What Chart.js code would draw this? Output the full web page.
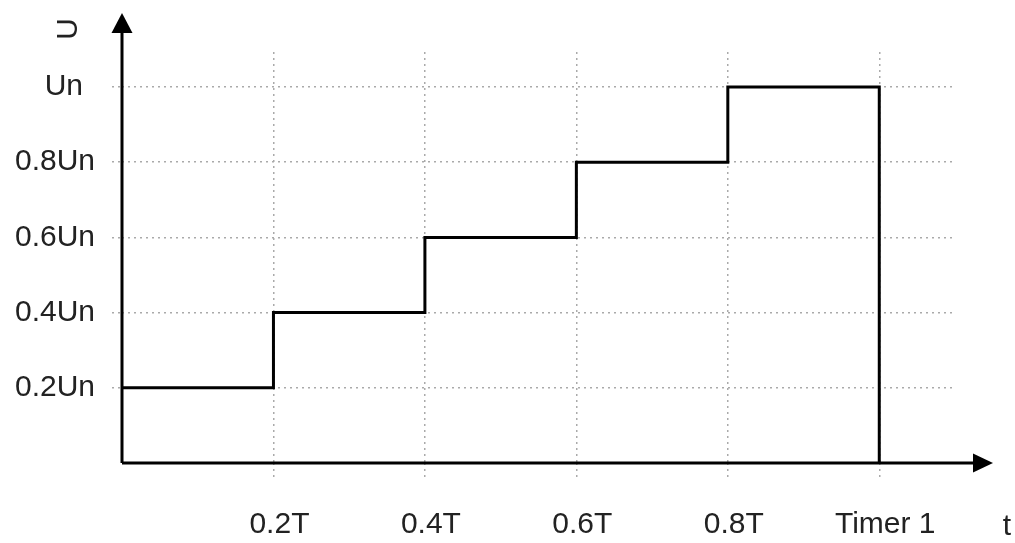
<!DOCTYPE html>
<html>
<head>
<meta charset="utf-8">
<script src="https://cdn.jsdelivr.net/npm/chart.js@4"></script>
<style>
  html, body { margin: 0; padding: 0; background: #fff; }
  #wrap { width: 1015px; height: 543px; }
</style>
</head>
<body>
<div id="wrap"><canvas id="stepChart"></canvas></div>
<script>
// data
const times = [0, 0.2, 0.4, 0.6, 0.8, 1.0];
const levels = [0.2, 0.4, 0.6, 0.8, 1.0, 0];
const xTicks = [0.2, 0.4, 0.6, 0.8, 1.0];
const xTickLabels = ['0.2T', '0.4T', '0.6T', '0.8T', 'Timer 1'];
const yTicks = [0.2, 0.4, 0.6, 0.8, 1.0];
const yTickLabels = ['0.2Un', '0.4Un', '0.6Un', '0.8Un', 'Un\u2009\u2009'];

const FONT = '"Liberation Sans", Arial, sans-serif';

// axis lines with arrow heads + axis letters
const arrowAxes = {
    id: 'arrowAxes',
    afterDraw(chart) {
        const ctx = chart.ctx;
        const xs = chart.scales.x, ys = chart.scales.y;
        const ox = xs.getPixelForValue(0);
        const oy = ys.getPixelForValue(0);
        ctx.save();
        ctx.strokeStyle = '#000';
        ctx.fillStyle = '#000';
        ctx.lineWidth = 3;
        ctx.beginPath();
        ctx.moveTo(ox, oy);
        ctx.lineTo(ox, 32);
        ctx.moveTo(ox, oy);
        ctx.lineTo(975, oy);
        ctx.stroke();
        // arrow heads
        ctx.beginPath();
        ctx.moveTo(ox, 13);
        ctx.lineTo(ox - 10.5, 33);
        ctx.lineTo(ox + 10.5, 33);
        ctx.closePath();
        ctx.fill();
        ctx.beginPath();
        ctx.moveTo(993, oy);
        ctx.lineTo(973, oy - 9.5);
        ctx.lineTo(973, oy + 9.5);
        ctx.closePath();
        ctx.fill();
        // axis letters
        ctx.fillStyle = '#222';
        ctx.font = '30px ' + FONT;
        ctx.textAlign = 'center';
        ctx.textBaseline = 'alphabetic';
        ctx.fillText('t', 1007, 535);
        ctx.textBaseline = 'middle';
        ctx.translate(68, 29);
        ctx.rotate(-Math.PI / 2);
        ctx.fillText('U', 0, 1);
        ctx.restore();
    }
};

const ctx = document.getElementById('stepChart').getContext('2d');
new Chart(ctx, {
    type: 'line',
    data: {
        datasets: [{
            data: times.map((t, i) => ({ x: t, y: levels[i] })),
            stepped: 'before',
            borderColor: '#000',
            borderWidth: 3,
            pointRadius: 0,
            fill: false,
            clip: false
        }]
    },
    options: {
        responsive: true,
        maintainAspectRatio: false,
        animation: false,
        events: [],
        layout: { padding: { left: 0, right: 60, top: 52, bottom: 0 } },
        plugins: {
            legend: { display: false },
            tooltip: { enabled: false }
        },
        scales: {
            x: {
                type: 'linear',
                min: 0,
                max: 1.1,
                afterFit: function(scale) { scale.height = 80; },
                afterBuildTicks: function(scale) {
                    scale.ticks = xTicks.map(v => ({ value: v }));
                },
                grid: {
                    color: '#aaa',
                    lineWidth: 1.5,
                    tickLength: 17,
                    tickColor: '#aaa',
                    tickWidth: 1.5,
                    tickBorderDash: [2, 4],
                    borderDash: [2, 4]
                },
                border: { display: false, dash: [2, 4] },
                ticks: {
                    autoSkip: false,
                    maxRotation: 0,
                    padding: 27,
                    labelOffset: 6,
                    color: '#222',
                    font: { family: FONT, size: 30 },
                    callback: function(value, index) { return xTickLabels[index]; }
                }
            },
            y: {
                type: 'linear',
                min: 0,
                max: 1.093,
                afterFit: function(scale) { scale.width = 122; },
                afterBuildTicks: function(scale) {
                    scale.ticks = yTicks.map(v => ({ value: v }));
                },
                grid: {
                    color: '#aaa',
                    lineWidth: 1.5,
                    tickLength: 10,
                    tickColor: '#aaa',
                    tickWidth: 1.5,
                    tickBorderDash: [2, 4],
                    borderDash: [2, 4]
                },
                border: { display: false, dash: [2, 4] },
                ticks: {
                    autoSkip: false,
                    padding: 17,
                    color: '#222',
                    font: { family: FONT, size: 30 },
                    callback: function(value, index) { return yTickLabels[index]; }
                }
            }
        }
    },
    plugins: [arrowAxes]
});
</script>
</body>
</html>
